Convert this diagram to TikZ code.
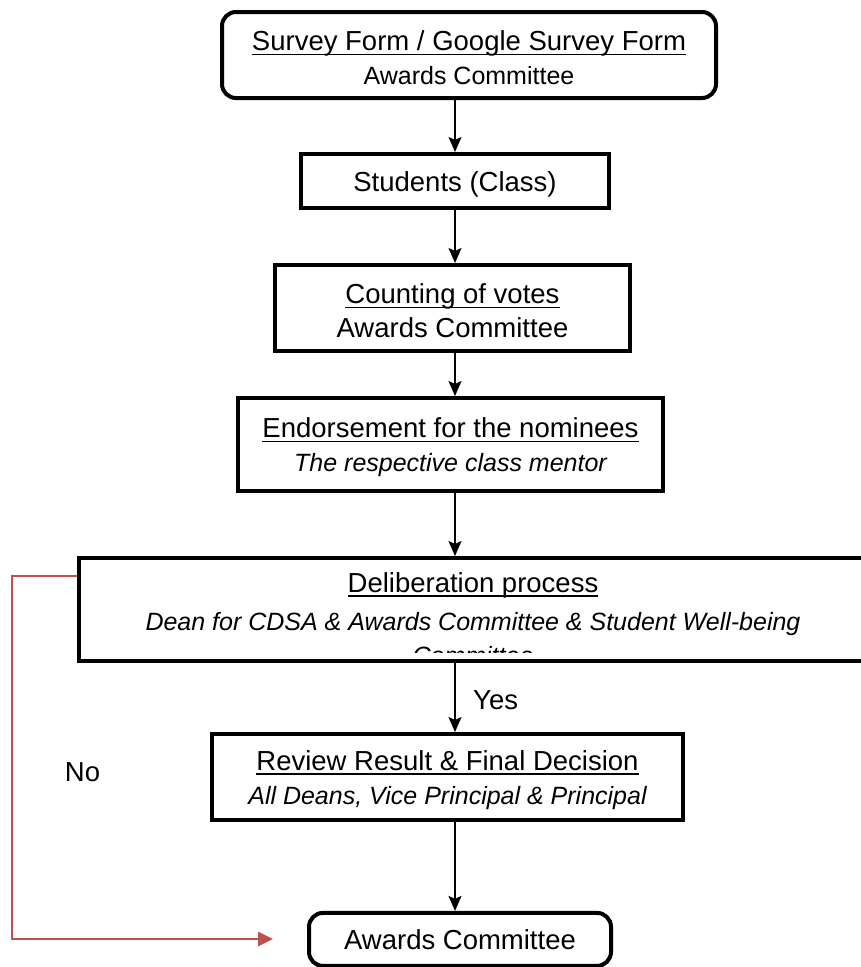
\documentclass[tikz,border=0pt]{standalone}
\usepackage{fontspec}
\setmainfont{Liberation Sans}
\usetikzlibrary{arrows.meta}
\definecolor{noline}{HTML}{C0504D}
\newcommand{\headline}[1]{\rule{0pt}{0.95em}\setbox0\hbox{#1}\rlap{\rule[-0.16em]{\wd0}{0.06em}}\box0}
\newcommand{\subline}[1]{{\fontsize{25}{34}\selectfont\itshape #1}}
\newcommand{\plainline}[1]{{\fontsize{25}{34}\selectfont #1}}
\tikzset{
  flowbox/.style={draw, line width=4pt, align=center, inner sep=0pt,
    font=\fontsize{27.5}{34}\selectfont},
  roundbox/.style={flowbox, rounded corners=14pt},
  flowarrow/.style={-{Stealth[length=15pt,width=13pt,inset=3pt]}, line width=1.8pt},
  backarrow/.style={-{Triangle[length=15pt,width=14pt]}, line width=2.8pt, draw=noline},
  label/.style={inner sep=0pt, font=\fontsize{27.5}{34}\selectfont}
}
\begin{document}
\begin{tikzpicture}[x=1pt, y=-1pt]
  \useasboundingbox (0,0) rectangle (861,967);
  \node[roundbox, minimum width=494pt, minimum height=86pt] (survey) at (469,55)
    {\headline{Survey Form / Google Survey Form}\\ \plainline{Awards Committee}};
  \node[flowbox, minimum width=308pt, minimum height=54pt] (students) at (455,181)
    {\rule{0pt}{0.95em}Students (Class)};
  \node[flowbox, minimum width=355pt, minimum height=86pt] (counting) at (452.5,308)
    {\headline{Counting of votes}\\ Awards Committee};
  \node[flowbox, minimum width=425pt, minimum height=93pt] (endorse) at (450.5,444.5)
    {\headline{Endorsement for the nominees}\\ \subline{The respective class mentor}};
  \node[flowbox, minimum width=788pt, minimum height=103pt] (delib) at (473,609.5) {};
  \begin{scope}
    \clip (delib.north west) rectangle ([yshift=11pt]delib.south east);
    \node[label, align=center, anchor=north] (delibtext) at (473,566)
      {\headline{Deliberation process}\\[4pt]
       \subline{Dean for CDSA \& Awards Committee \& Student Well-being}\\
       \subline{Committee}};
  \end{scope}
  \node[flowbox, minimum width=471pt, minimum height=86pt] (review) at (447.5,777)
    {\headline{Review Result \& Final Decision}\\ \subline{All Deans, Vice Principal \& Principal}};
  \node[roundbox, minimum width=302pt, minimum height=53pt] (final) at (460,939.4)
    {Awards Committee};
  \node[label, anchor=west] (yes) at (473,700) {Yes};
  \node[label] (no) at (82.5,772) {No};
  \coordinate (noend) at (273,939);
  \begin{scope}[flowarrow]
    \draw (survey.south -| students) -- (students.north);
    \draw (students.south) -- (counting.north -| students);
    \draw (counting.south -| students) -- (endorse.north -| students);
    \draw (endorse.south -| students) -- (delib.north -| students);
    \draw (delib.south -| students) -- (review.north -| students);
    \draw (review.south -| students) -- (final.north -| students);
  \end{scope}
  \draw[backarrow] ([yshift=-20pt]delib.north west) -- ++(-65,0) |- (noend);
\end{tikzpicture}
\end{document}
